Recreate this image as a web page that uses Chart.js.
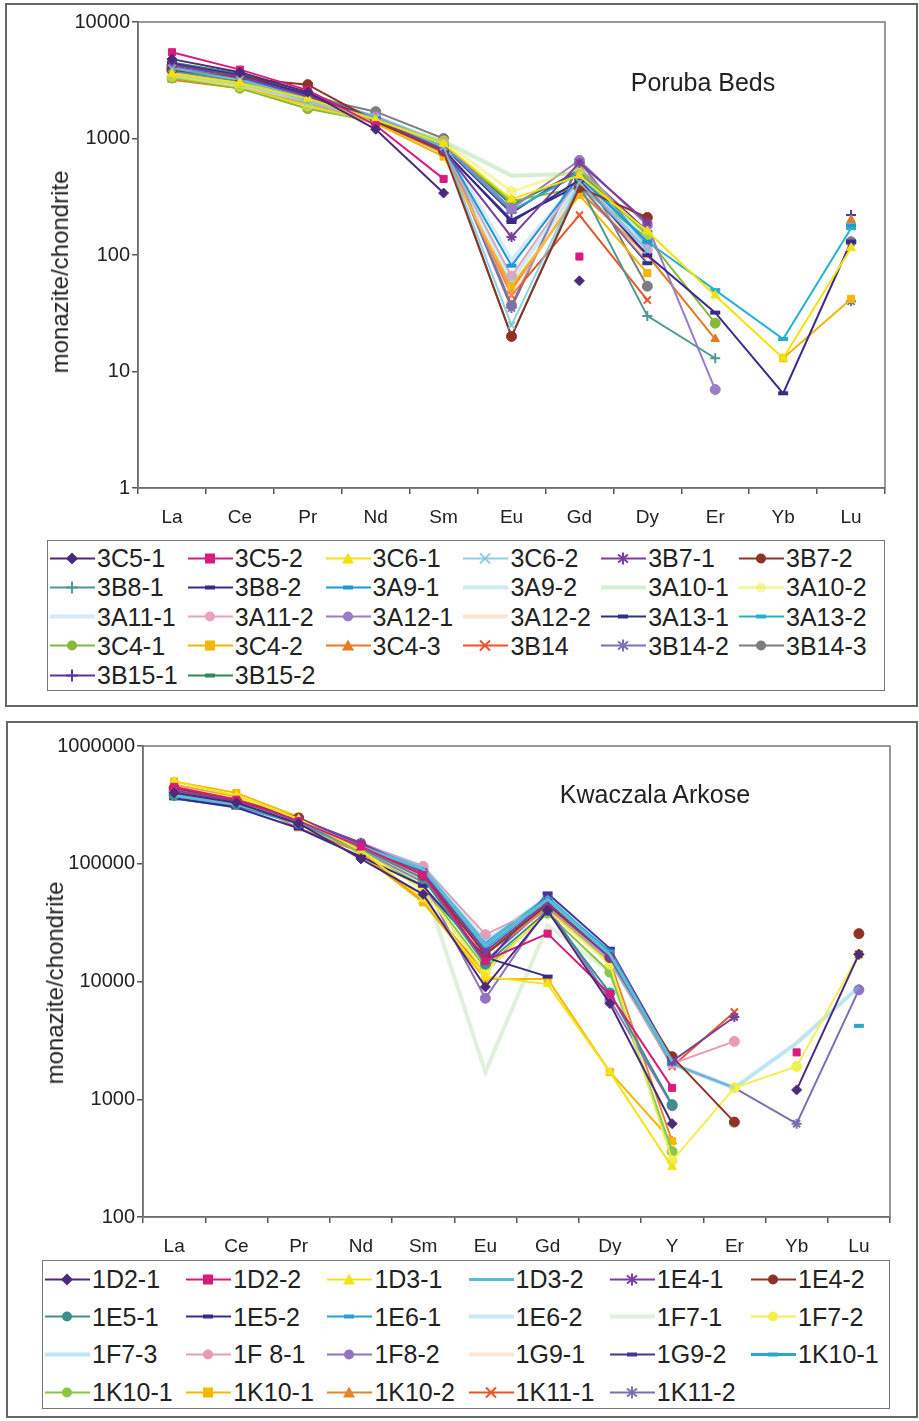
<!DOCTYPE html>
<html><head><meta charset="utf-8">
<script src="https://cdn.jsdelivr.net/npm/chart.js@4"></script>
<style>
body{margin:0;background:#fff;width:919px;height:1421px;position:relative;overflow:hidden;font-family:"Liberation Sans",Arial,sans-serif;color:#222}
.frame{position:absolute;border:2px solid #666;box-sizing:border-box}
canvas{position:absolute}
.ylab{position:absolute;transform:translate(-50%,-50%) rotate(-90deg);font-size:24px;white-space:nowrap}
.title{position:absolute;transform:translate(-50%,-50%);font-size:25px;white-space:nowrap}
.legend{position:absolute;border:1.5px solid #777;box-sizing:border-box}
.item{position:absolute;display:flex;align-items:center;white-space:nowrap;transform:translateY(-50%);line-height:1}
.item svg{flex:none}
</style></head>
<body>
<div class="frame" style="left:5px;top:3px;width:913px;height:704px"></div>
<div class="frame" style="left:6px;top:721px;width:912px;height:697px"></div>
<canvas id="c1" width="911" height="530" style="left:6px;top:4px;width:911px;height:530px"></canvas>
<canvas id="c2" width="911" height="535" style="left:6px;top:722px;width:911px;height:535px"></canvas>
<div class="ylab" style="left:60px;top:272px">monazite/chondrite</div>
<div class="ylab" style="left:55px;top:983px">monazite/chondrite</div>
<div class="title" style="left:703px;top:82px">Poruba Beds</div>
<div class="title" style="left:655px;top:794px">Kwaczala Arkose</div>
<div class="legend" style="left:47px;top:540px;width:838px;height:151px"></div>
<div class="legend" style="left:42px;top:1260px;width:848px;height:149px"></div>
<script>
// ---------- Poruba Beds (top) ----------
const porubaCategories = ['La','Ce','Pr','Nd','Sm','Eu','Gd','Dy','Er','Yb','Lu'];
const porubaTicks = [1,10,100,1000,10000];
const p_3C5_1  = [4800,3700,2500,1200,340,null,60,null,null,null,null];
const p_3C5_2  = [5500,3900,2600,1300,450,null,97,null,null,null,null];
const p_3C6_1  = [3600,3000,2200,1450,900,300,480,160,45,13,115];
const p_3C6_2  = [4000,3200,2100,1500,850,25,420,110,null,null,null];
const p_3B7_1  = [4300,3400,2300,1450,800,143,620,190,null,null,null];
const p_3B7_2  = [3900,3300,2900,1400,780,20,380,210,null,null,null];
const p_3B8_1  = [3800,3100,2200,1500,820,20,400,30,13,null,null];
const p_3B8_2  = [4400,3500,2400,1450,800,192,440,100,32,6.5,130];
const p_3A9_1  = [4000,3300,2300,1500,850,81,470,130,null,null,180];
const p_3A9_2  = [3700,3100,2200,1550,900,60,420,120,null,null,170];
const p_3A10_1 = [3500,2900,2000,1450,950,480,500,140,null,null,95];
const p_3A10_2 = [3400,2800,1900,1400,950,350,550,150,null,null,null];
const p_3A11_1 = [3600,3000,2100,1500,900,90,450,120,null,null,null];
const p_3A11_2 = [3800,3200,2200,1500,850,66,460,110,null,null,null];
const p_3A12_1 = [4100,3300,2300,1550,900,250,650,180,7,null,null];
const p_3A12_2 = [3500,2900,2000,1450,850,45,400,90,null,null,null];
const p_3A13_1 = [4200,3400,2300,1450,780,200,400,85,null,null,130];
const p_3A13_2 = [3900,3200,2200,1500,870,240,500,130,50,19,170];
const p_3C4_1  = [3300,2700,1800,1400,850,290,380,140,26,null,null];
const p_3C4_2  = [3300,2700,1900,1350,700,54,327,70,null,13,42];
const p_3C4_3  = [3200,2700,2000,1400,750,50,350,100,19,null,200];
const p_3B14   = [3900,3200,2400,1400,800,45,220,41,null,null,null];
const p_3B14_2 = [4100,3300,2200,1500,900,35,630,120,null,null,40];
const p_3B14_3 = [4200,3500,2300,1700,1000,37,600,54,null,null,130];
const p_3B15_1 = [4300,3400,2400,1450,850,230,550,160,null,null,220];
const p_3B15_2 = [4500,3600,2500,1500,900,270,520,150,null,null,null];
const porubaNames = ['3C5-1','3C5-2','3C6-1','3C6-2','3B7-1','3B7-2','3B8-1','3B8-2','3A9-1','3A9-2','3A10-1','3A10-2','3A11-1','3A11-2','3A12-1','3A12-2','3A13-1','3A13-2','3C4-1','3C4-2','3C4-3','3B14','3B14-2','3B14-3','3B15-1','3B15-2'];
const porubaSeries = [p_3C5_1,p_3C5_2,p_3C6_1,p_3C6_2,p_3B7_1,p_3B7_2,p_3B8_1,p_3B8_2,p_3A9_1,p_3A9_2,p_3A10_1,p_3A10_2,p_3A11_1,p_3A11_2,p_3A12_1,p_3A12_2,p_3A13_1,p_3A13_2,p_3C4_1,p_3C4_2,p_3C4_3,p_3B14,p_3B14_2,p_3B14_3,p_3B15_1,p_3B15_2];

// ---------- Kwaczala Arkose (bottom) ----------
const kwaczalaCategories = ['La','Ce','Pr','Nd','Sm','Eu','Gd','Dy','Y','Er','Yb','Lu'];
const kwaczalaTicks = [100,1000,10000,100000,1000000];
const k_1D2_1  = [400000,330000,220000,110000,55000,9000,40000,6500,620,null,1200,17000];
const k_1D2_2  = [450000,350000,230000,140000,80000,15000,25500,7800,1250,null,2500,null];
const k_1D3_1  = [500000,380000,240000,130000,50000,11000,9500,1700,265,null,null,null];
const k_1D3_2  = [380000,320000,230000,140000,90000,20000,50000,17000,2100,null,null,null];
const k_1E4_1  = [420000,340000,240000,150000,85000,18000,47000,16000,2100,5000,null,17000];
const k_1E4_2  = [440000,350000,245000,145000,80000,17000,45000,16000,2300,640,null,25500];
const k_1E5_1  = [380000,320000,220000,135000,75000,14000,40000,8000,900,null,null,null];
const k_1E5_2  = [360000,300000,200000,115000,65000,16000,11000,null,null,null,null,null];
const k_1E6_1  = [370000,320000,230000,140000,85000,19000,50000,18000,2000,null,null,null];
const k_1E6_2  = [390000,330000,235000,145000,95000,22000,52000,18000,2000,1250,null,null];
const k_1F7_1  = [400000,340000,230000,130000,70000,1700,30000,12000,360,null,null,null];
const k_1F7_2  = [450000,360000,240000,130000,60000,12000,40000,14000,300,1250,1900,17000];
const k_1F7_3  = [380000,320000,220000,140000,90000,20000,45000,15000,2000,1250,3000,9000];
const k_1F8_1  = [420000,340000,240000,150000,95000,25000,45000,16000,2000,3100,null,null];
const k_1F8_2  = [410000,330000,220000,130000,70000,7200,43000,7000,880,null,null,8500];
const k_1G9_1  = [460000,360000,240000,135000,75000,18000,42000,15000,2000,null,null,null];
const k_1G9_2  = [370000,310000,230000,150000,90000,14000,56000,19000,2200,null,null,null];
const k_1K10_1a = [360000,310000,220000,140000,90000,21000,52000,17000,2100,null,null,4200];
const k_1K10_1b = [390000,330000,220000,125000,65000,13000,38000,12000,360,null,null,null];
const k_1K10_1c = [500000,400000,250000,120000,47000,10500,10500,1700,440,null,null,null];
const k_1K10_2 = [470000,370000,200000,125000,48000,12000,40000,15000,440,null,null,null];
const k_1K11_1 = [430000,350000,240000,140000,80000,17000,42000,16000,1900,5500,null,17000];
const k_1K11_2 = [400000,330000,230000,140000,75000,15000,44000,15000,2000,1250,620,8500];
const kwaczalaNames = ['1D2-1','1D2-2','1D3-1','1D3-2','1E4-1','1E4-2','1E5-1','1E5-2','1E6-1','1E6-2','1F7-1','1F7-2','1F7-3','1F 8-1','1F8-2','1G9-1','1G9-2','1K10-1','1K10-1','1K10-1','1K10-2','1K11-1','1K11-2'];
const kwaczalaSeries = [k_1D2_1,k_1D2_2,k_1D3_1,k_1D3_2,k_1E4_1,k_1E4_2,k_1E5_1,k_1E5_2,k_1E6_1,k_1E6_2,k_1F7_1,k_1F7_2,k_1F7_3,k_1F8_1,k_1F8_2,k_1G9_1,k_1G9_2,k_1K10_1a,k_1K10_1b,k_1K10_1c,k_1K10_2,k_1K11_1,k_1K11_2];

// ---------- styles (color, point style, line width) ----------
const porubaStyles = [
 ['#4b2a7b','rectRot',2],['#d81b7f','rect',2],['#f2e20a','triangle',2],['rgba(120,195,218,0.8)','crossRot',2],
 ['#7b3f9e','star',2],['#8e3426','circle',2],['#4f9893','cross',2],['#3b2a8c','line',2],
 ['#1f98d5','line',2],['rgba(120,200,222,0.35)','none',4],['rgba(120,200,110,0.3)','none',4],['rgba(238,238,80,0.5)','circle',3],
 ['rgba(150,200,240,0.4)','none',4],['#eaa2be','circle',2],['#9a7cc8','circle',2],['rgba(250,196,150,0.45)','none',4],
 ['#2e318f','line',2],['#27b2cb','line',2],['#86b93b','circle',2],['#f2b705','rect',2],
 ['#e57a1e','triangle',2],['#e8552a','crossRot',2],['#7c6fb0','star',2],['#7d7d7d','circle',2],
 ['#5f3596','cross',2],['#2e8b57','line',2]
];
const kwaczalaStyles = [
 ['#4b2a7b','rectRot',2],['#d81b7f','rect',2],['#f0e51a','triangle',2],['#5bbcd6','none',3],
 ['#7b3f9e','star',2],['#8e3426','circle',2],['#3e8f8c','circle',2],['#3b2a8c','line',2],
 ['#2a9fd6','line',2],['rgba(120,200,230,0.4)','none',4],['rgba(130,200,110,0.25)','none',4],['#f4ef50','circle',2],
 ['rgba(110,200,222,0.45)','none',4],['#e99ab5','circle',2],['#9273c2','circle',2],['rgba(250,190,150,0.4)','none',4],
 ['#43339a','line',2],['#2aa7c6','line',3],['#8cc63f','circle',2],['#f5b800','rect',2],
 ['#e8842a','triangle',2],['#e8552a','crossRot',2],['#7c6fb0','star',2]
];

const boxPlugin = {id:'plotbox', beforeDatasetsDraw(chart){
  const {ctx, chartArea:a} = chart; ctx.save(); ctx.strokeStyle='#777'; ctx.lineWidth=1.5;
  ctx.strokeRect(a.left,a.top,a.right-a.left,a.bottom-a.top); ctx.restore(); }};

function makeChart(id, cats, series, names, styles, ticks, pad, yWidth, xHeight){
  const datasets = series.map((d,i)=>{
    const [c,ps,w] = styles[i];
    const none = ps==='none';
    return {label:names[i], data:d, borderColor:c, backgroundColor:c, borderWidth:w,
      pointStyle: none ? false : ps, pointRadius: none?0:5,
      pointBorderWidth: (ps==='line')?4:((ps==='cross'||ps==='crossRot'||ps==='star')?2:1),
      pointBackgroundColor:c, pointBorderColor:c, tension:0, spanGaps:false, clip:8};
  });
  return new Chart(document.getElementById(id), {
    type:'line', data:{labels:cats, datasets},
    plugins:[boxPlugin],
    options:{responsive:false, animation:false, devicePixelRatio:1,
      layout:{padding:pad},
      plugins:{legend:{display:false}, tooltip:{enabled:false}},
      scales:{
        x:{type:'category', offset:true,
           grid:{display:true, drawOnChartArea:false, offset:true, tickLength:6, color:'#555', lineWidth:1.5},
           border:{display:true,color:'#555',width:1.5},
           ticks:{color:'#222', font:{family:'"Liberation Sans", Arial, sans-serif', size:19}, padding:12, autoSkip:false, maxRotation:0},
           afterFit(s){ s.height = xHeight; }},
        y:{type:'logarithmic', min:ticks[0], max:ticks[ticks.length-1],
           afterBuildTicks(s){ s.ticks = ticks.map(v=>({value:v, major:true})); },
           grid:{display:true, drawOnChartArea:false, tickLength:6, color:'#555', lineWidth:1.5},
           border:{display:true,color:'#555',width:1.5},
           ticks:{color:'#222', font:{family:'"Liberation Sans", Arial, sans-serif', size:20}, padding:2, autoSkip:false, callback:(v)=>String(v)},
           afterFit(s){ s.width = yWidth; }}
      }}
  });
}

makeChart('c1', porubaCategories, porubaSeries, porubaNames, porubaStyles, porubaTicks, {left:0,top:18,right:32,bottom:6}, 132, 40);
makeChart('c2', kwaczalaCategories, kwaczalaSeries, kwaczalaNames, kwaczalaStyles, kwaczalaTicks, {left:0,top:24,right:27,bottom:2}, 137, 38);

// ---------- HTML legends ----------
function markerSvg(c, ps){
  const cx=23, cy=10;
  switch(ps){
    case 'circle': return `<circle cx="${cx}" cy="${cy}" r="5" fill="${c}"/>`;
    case 'rect': return `<rect x="${cx-5}" y="${cy-5}" width="10" height="10" fill="${c}"/>`;
    case 'rectRot': return `<polygon points="${cx},${cy-6} ${cx+6},${cy} ${cx},${cy+6} ${cx-6},${cy}" fill="${c}"/>`;
    case 'triangle': return `<polygon points="${cx},${cy-6} ${cx+6},${cy+5} ${cx-6},${cy+5}" fill="${c}"/>`;
    case 'cross': return `<path d="M${cx},${cy-6}V${cy+6}M${cx-6},${cy}H${cx+6}" stroke="${c}" stroke-width="2"/>`;
    case 'crossRot': return `<path d="M${cx-5},${cy-5}L${cx+5},${cy+5}M${cx-5},${cy+5}L${cx+5},${cy-5}" stroke="${c}" stroke-width="2"/>`;
    case 'star': return `<path d="M${cx},${cy-6}V${cy+6}M${cx-5},${cy-4}L${cx+5},${cy+4}M${cx-5},${cy+4}L${cx+5},${cy-4}" stroke="${c}" stroke-width="2"/>`;
    case 'line': return `<path d="M${cx-5},${cy}H${cx+5}" stroke="${c}" stroke-width="4"/>`;
    default: return '';
  }
}
function addLegend(names, styles, x0, pitch, y0, rowPitch, fs){
  names.forEach((n,i)=>{
    const col=i%6, row=Math.floor(i/6);
    const [c,ps,w]=styles[i];
    const d=document.createElement('div');
    d.className='item';
    d.style.left=(x0+col*pitch-48)+'px';
    d.style.top=(y0+row*rowPitch)+'px';
    d.style.fontSize=fs+'px';
    d.innerHTML=`<svg width="48" height="20"><path d="M1,10H46" stroke="${c}" stroke-width="${Math.max(2,w)}"/>${markerSvg(c,ps)}</svg><span>${n}</span>`;
    document.body.appendChild(d);
  });
}
addLegend(porubaNames, porubaStyles, 97, 137.8, 558, 29.3, 25);
addLegend(kwaczalaNames, kwaczalaStyles, 92, 141.2, 1279, 37.7, 25);
</script>
</body></html>
